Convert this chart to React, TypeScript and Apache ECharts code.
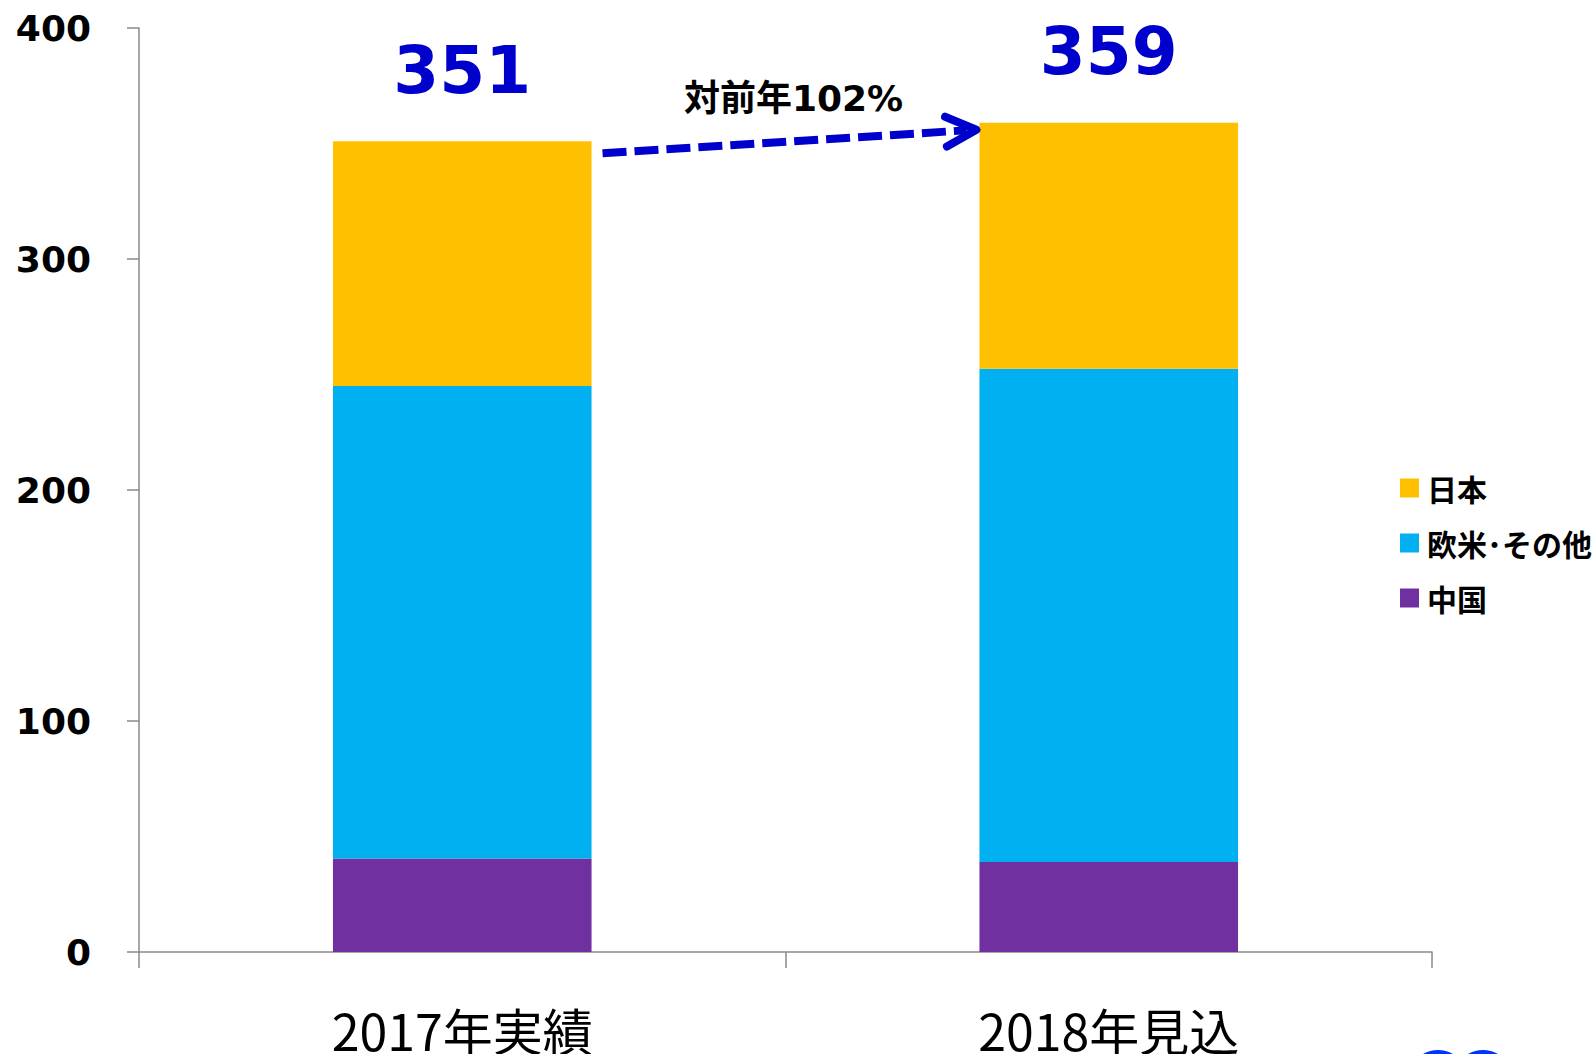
import React, { useEffect, useRef } from "react";
import * as echarts from "echarts";

const categories = ["2017年実績", "2018年見込"];
const chinaValues = [40.5, 39];
const westValues = [204.5, 213.5];
const japanValues = [106, 106.5];
const totals = [351, 359];
const yTicks = { min: 0, max: 400, interval: 100 };
const growthText = "対前年102%";
const seriesNames = ["中国", "欧米･その他", "日本"];

export default function App() {
  const ref = useRef<HTMLDivElement>(null);
  useEffect(() => {
    if (!ref.current) return;
    const chart = echarts.init(ref.current, undefined, { renderer: "svg" });
    const axisColor = "#8a8a8a";
    const option: any = {
      animation: false,
      backgroundColor: "#ffffff",
      grid: { left: 139, right: 164, top: 28, bottom: 100 },
      legend: {
        orient: "vertical",
        left: 1395,
        top: 468,
        itemWidth: 19,
        itemHeight: 19,
        itemGap: 25,
        icon: "rect",
        data: [seriesNames[2], seriesNames[1], seriesNames[0]],
        textStyle: {
          fontFamily: "'Noto Sans CJK JP', sans-serif",
          fontWeight: "bold",
          fontSize: 30,
          lineHeight: 30,
          color: "#000",
          padding: [0, 0, 0, 3],
        },
      },
      xAxis: {
        type: "category",
        data: categories,
        axisLine: { show: true, lineStyle: { color: axisColor, width: 1.5 } },
        axisTick: { show: true, length: 16, lineStyle: { color: axisColor, width: 1.5 } },
        axisLabel: {
          margin: 52,
          fontFamily: "'Noto Sans CJK JP', sans-serif",
          fontSize: 50,
          lineHeight: 50,
          color: "#000",
        },
      },
      yAxis: {
        type: "value",
        min: yTicks.min,
        max: yTicks.max,
        interval: yTicks.interval,
        splitLine: { show: false },
        axisLine: { show: true, lineStyle: { color: axisColor, width: 1.5 } },
        axisTick: { show: true, length: 12, lineStyle: { color: axisColor, width: 1.5 } },
        axisLabel: {
          margin: 48,
          fontFamily: "'DejaVu Sans', sans-serif",
          fontWeight: "bold",
          fontSize: 36,
          color: "#000",
        },
      },
      series: [
        {
          name: seriesNames[0],
          type: "bar",
          stack: "total",
          barWidth: "40%",
          data: chinaValues,
          itemStyle: { color: "#7030A0" },
        },
        {
          name: seriesNames[1],
          type: "bar",
          stack: "total",
          data: westValues,
          itemStyle: { color: "#00B0F0" },
        },
        {
          name: seriesNames[2],
          type: "bar",
          stack: "total",
          data: japanValues,
          itemStyle: { color: "#FFC000" },
          label: {
            show: true,
            position: "top",
            distance: 38,
            formatter: (p: any) => String(totals[p.dataIndex]),
            fontFamily: "'DejaVu Sans', sans-serif",
            fontWeight: "bold",
            fontSize: 66,
            color: "#0000CC",
          },
        },
      ],
    };
    chart.setOption(option);

    const p0 = chart.convertToPixel({ seriesIndex: 2 }, [0, totals[0]]) as number[];
    const p1 = chart.convertToPixel({ seriesIndex: 2 }, [1, totals[1]]) as number[];
    const band = p1[0] - p0[0];
    const bw = band * 0.4;
    const sx = p0[0] + bw / 2 + 11;
    const sy = p0[1] + 12;
    const tx = p1[0] - bw / 2 - 3;
    const ty = p1[1] + 7;
    const ang = Math.atan2(ty - sy, tx - sx);
    const armLen = 34;
    const armAng = (26 * Math.PI) / 180;
    const a1 = [tx - armLen * Math.cos(ang - armAng), ty - armLen * Math.sin(ang - armAng)];
    const a2 = [tx - armLen * Math.cos(ang + armAng), ty - armLen * Math.sin(ang + armAng)];
    const ex = tx - 10 * Math.cos(ang);
    const ey = ty - 10 * Math.sin(ang);
    const blue = "#0000CC";

    chart.setOption({
      graphic: [
        {
          type: "line",
          shape: { x1: sx, y1: sy, x2: ex, y2: ey },
          style: { stroke: blue, lineWidth: 8, lineDash: [24, 8] },
          z: 10,
        },
        {
          type: "polyline",
          shape: { points: [a1, [tx, ty], a2] },
          style: { stroke: blue, lineWidth: 8, fill: null, lineCap: "round", lineJoin: "round" },
          z: 10,
        },
        {
          type: "text",
          x: (sx + tx) / 2 + 4,
          y: (sy + ty) / 2 - 43,
          style: {
            text: growthText,
            fontFamily: "'DejaVu Sans', 'Noto Sans CJK JP', sans-serif",
            fontWeight: "bold",
            fontSize: 36,
            fill: "#000",
            align: "center",
            verticalAlign: "middle",
          },
          z: 10,
        },
        {
          type: "circle",
          shape: { cx: 1438, cy: 1080, r: 30 },
          style: { fill: "#0033FF" },
        },
        {
          type: "circle",
          shape: { cx: 1483, cy: 1080, r: 30 },
          style: { fill: "#0033FF" },
        },
      ],
    });

    return () => chart.dispose();
  }, []);
  return (
    <div
      ref={ref}
      style={{ position: "absolute", left: 0, top: 0, width: 1596, height: 1054 }}
    />
  );
}
